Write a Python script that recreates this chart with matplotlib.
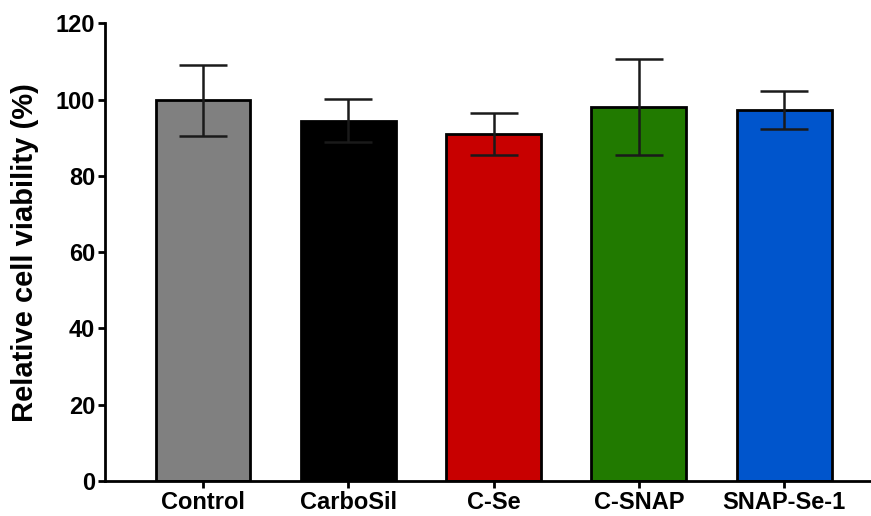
import matplotlib.pyplot as plt

groups = ["Control", "CarboSil", "C-Se", "C-SNAP", "SNAP-Se-1"]
viability = [99.8, 94.5, 91.0, 98.1, 97.2]
sd = [9.4, 5.6, 5.5, 12.5, 5.0]
colors = ["#808080", "#000000", "#c80000", "#217a00", "#0055cc"]

plt.rcParams['font.family'] = ['Liberation Sans', 'DejaVu Sans']
plt.rcParams['font.weight'] = 'bold'

fig = plt.figure(figsize=(8.71, 5.16), dpi=100)
ax = fig.add_axes([0.1206, 0.0678, 0.878, 0.887])

x = range(len(groups))
ax.bar(x, viability, width=0.653, color=colors, edgecolor='black', linewidth=2, zorder=2)
ax.errorbar(x, viability, yerr=sd, fmt='none', ecolor='#1a1a1a', elinewidth=1.8,
            capsize=17, capthick=1.8, zorder=3)

ax.set_xlim(-0.674, 4.59)
ax.set_ylim(0, 120)
ax.set_yticks([0, 20, 40, 60, 80, 100, 120])
ax.set_xticks(list(x))
ax.set_xticklabels(groups, fontsize=17, fontweight='bold')
for lab in ax.get_yticklabels():
    lab.set_fontsize(17)
    lab.set_fontweight('bold')
ax.set_ylabel('Relative cell viability (%)', fontsize=21, fontweight='bold', labelpad=12)

for side in ['top', 'right']:
    ax.spines[side].set_visible(False)
for side in ['left', 'bottom']:
    ax.spines[side].set_linewidth(2)
ax.tick_params(width=2, length=5, pad=2)

plt.savefig('out.png', dpi=100)
